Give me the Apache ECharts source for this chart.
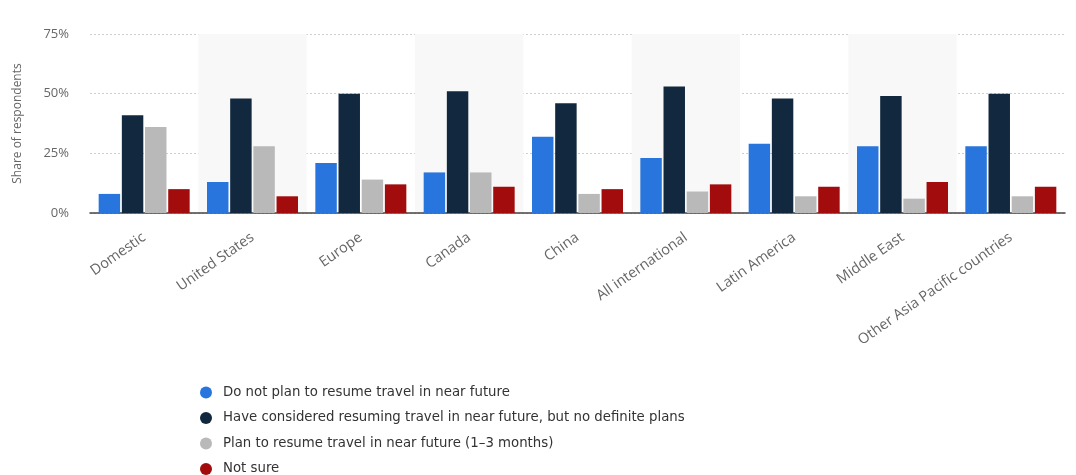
<!DOCTYPE html>
<html>
<head>
<meta charset="utf-8">
<script src="https://cdn.jsdelivr.net/npm/echarts@6/dist/echarts.min.js"></script>
<style>
  html, body { margin: 0; padding: 0; background: #ffffff; }
  #chart { width: 1076px; height: 475px; }
</style>
</head>
<body>
<div id="chart"></div>
<script>
// Travel plans by destination, share of respondents (%)
const categories = ['Domestic', 'United States', 'Europe', 'Canada', 'China',
  'All international', 'Latin America', 'Middle East', 'Other Asia Pacific countries'];

const seriesNames = [
  'Do not plan to resume travel in near future',
  'Have considered resuming travel in near future, but no definite plans',
  'Plan to resume travel in near future (1\u20133 months)',
  'Not sure'
];

const doNotPlan      = [8, 13, 21, 17, 32, 23, 29, 28, 28];
const consideredOnly = [41, 48, 50, 51, 46, 53, 48, 49, 50];
const planSoon       = [36, 28, 14, 17, 8, 9, 7, 6, 7];
const notSure        = [10, 7, 12, 11, 10, 12, 11, 13, 11];

const yTicks = [0, 25, 50, 75];

const colors = ['#2876dd', '#12283f', '#b9b9b9', '#a30c0c'];
const values = [doNotPlan, consideredOnly, planSoon, notSure];

const chart = echarts.init(document.getElementById('chart'), null, { renderer: 'canvas' });

chart.setOption({
  animation: false,
  backgroundColor: '#ffffff',
  grid: { left: 90, right: 11, top: 34, bottom: 262 },
  legend: {
    orient: 'vertical',
    left: 200,
    top: 386,
    height: 100,
    padding: 0,
    icon: 'circle',
    itemWidth: 12,
    itemHeight: 12,
    itemGap: 12.5,
    textStyle: { fontFamily: 'DejaVu Sans', fontSize: 13.3, color: '#333333', padding: [0, 0, 0, 6] },
    data: seriesNames
  },
  xAxis: {
    type: 'category',
    data: categories,
    axisLine: { lineStyle: { color: '#444444', width: 1.5 } },
    axisTick: { show: false },
    splitArea: { show: true, areaStyle: { color: ['rgba(255,255,255,0)', '#f8f8f8'] } },
    axisLabel: {
      interval: 0,
      rotate: 35,
      margin: 23,
      fontFamily: 'Open Sans',
      fontSize: 14.5,
      color: '#666666'
    }
  },
  yAxis: {
    type: 'value',
    min: yTicks[0],
    max: yTicks[yTicks.length - 1],
    interval: 25,
    name: 'Share of respondents',
    nameLocation: 'middle',
    nameGap: 66,
    nameTextStyle: { fontFamily: 'Open Sans', fontSize: 12, color: '#666666' },
    axisLine: { show: false },
    axisTick: { show: false },
    axisLabel: {
      formatter: '{value}%',
      margin: 21,
      fontFamily: 'Open Sans',
      fontSize: 13,
      color: '#666666'
    },
    splitLine: { lineStyle: { color: '#cfcfcf', type: [2, 2], width: 1 } }
  },
  series: seriesNames.map((name, i) => ({
    name: name,
    type: 'bar',
    data: values[i],
    barCategoryGap: '16%',
    barGap: '8%',
    itemStyle: { color: colors[i] }
  }))
});
</script>
</body>
</html>
